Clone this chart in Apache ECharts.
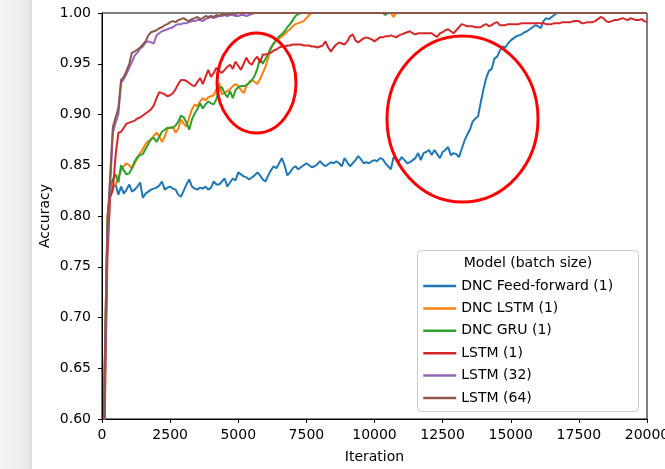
<!DOCTYPE html>
<html>
<head>
<meta charset="utf-8">
<script src="https://cdn.jsdelivr.net/npm/echarts@6/dist/echarts.min.js"></script>
<style>
html,body{margin:0;padding:0;background:#fff;}
#chart{width:665px;height:469px;}
</style>
</head>
<body>
<div id="chart"></div>
<script>
// Iteration grid (x values)
var iterations = [
0,100,200,300,400,500,600,700,800,900,
1000,1100,1200,1300,1400,1500,1600,1700,1800,1900,
2000,2100,2200,2300,2400,2500,2600,2700,2800,2900,
3000,3100,3200,3300,3400,3500,3600,3700,3800,3900,
4000,4100,4200,4300,4400,4500,4600,4700,4800,4900,
5000,5100,5200,5300,5400,5500,5600,5700,5800,5900,
6000,6100,6200,6300,6400,6500,6600,6700,6800,6900,
7000,7100,7200,7300,7400,7500,7600,7700,7800,7900,
8000,8100,8200,8300,8400,8500,8600,8700,8800,8900,
9000,9100,9200,9300,9400,9500,9600,9700,9800,9900,
10000,10100,10200,10300,10400,10500,10600,10700,10800,10900,
11000,11100,11200,11300,11400,11500,11600,11700,11800,11900,
12000,12100,12200,12300,12400,12500,12600,12700,12800,12900,
13000,13100,13200,13300,13400,13500,13600,13700,13800,13900,
14000,14100,14200,14300,14400,14500,14600,14700,14800,14900,
15000,15100,15200,15300,15400,15500,15600,15700,15800,15900,
16000,16100,16200,16300,16400,16500,16600,16700,16800,16900,
17000,17100,17200,17300,17400,17500,17600,17700,17800,17900,
18000,18100,18200,18300,18400,18500,18600,18700,18800,18900,
19000,19100,19200,19300,19400,19500,19600,19700,19800,19900,
20000];

var dncFeedForward = [
0.45,0.65,0.80,0.822,0.828,0.831,0.821,0.829,0.822,0.826,
0.831,0.824,0.826,0.829,0.833,0.818,0.822,0.824,0.826,0.827,
0.828,0.830,0.834,0.826,0.828,0.829,0.827,0.826,0.821,0.819,
0.825,0.831,0.836,0.829,0.827,0.826,0.828,0.827,0.829,0.826,
0.828,0.834,0.831,0.831,0.834,0.837,0.829,0.833,0.837,0.835,
0.843,0.841,0.839,0.838,0.836,0.838,0.840,0.843,0.840,0.836,
0.834,0.840,0.845,0.849,0.847,0.852,0.857,0.850,0.840,0.843,
0.847,0.849,0.846,0.848,0.850,0.852,0.850,0.848,0.849,0.851,
0.854,0.851,0.849,0.851,0.853,0.852,0.854,0.852,0.849,0.857,
0.853,0.849,0.852,0.855,0.859,0.856,0.852,0.853,0.852,0.854,
0.855,0.854,0.857,0.856,0.852,0.849,0.846,0.858,0.856,0.854,
0.858,0.855,0.852,0.853,0.855,0.857,0.862,0.855,0.862,0.863,
0.865,0.860,0.865,0.861,0.857,0.863,0.865,0.868,0.860,0.862,
0.861,0.858,0.866,0.874,0.880,0.885,0.893,0.896,0.898,0.912,
0.925,0.936,0.943,0.945,0.955,0.957,0.963,0.967,0.966,0.970,
0.973,0.975,0.977,0.978,0.979,0.981,0.982,0.984,0.986,0.988,
0.987,0.985,0.992,0.995,0.994,0.996,0.998,1,1,1,
1,1,1,1,1,1,1,1,1,1,
1,1,1,1,1,1,1,1,1,1,
1,1,1,1,1,1,1,1,1,1,
1];

var dncLstm = [
0.45,0.66,0.80,0.826,0.829,0.831,0.838,0.845,0.849,0.852,
0.850,0.847,0.852,0.857,0.862,0.866,0.871,0.874,0.875,0.879,
0.882,0.879,0.873,0.878,0.886,0.887,0.888,0.882,0.886,0.895,
0.891,0.888,0.897,0.905,0.910,0.908,0.913,0.916,0.914,0.917,
0.918,0.919,0.925,0.931,0.920,0.921,0.923,0.925,0.928,0.930,
0.928,0.924,0.921,0.928,0.932,0.934,0.932,0.930,0.935,0.941,
0.947,0.956,0.965,0.970,0.973,0.975,0.977,0.979,0.982,0.984,
0.987,0.989,0.990,0.991,0.992,0.995,0.998,1,1,1,
1,1,1,1,1,1,1,1,1,1,
1,1,1,1,1,1,1,1,1,1,
1,1,1,1,1,1,1,0.996,1,1,
1,1,1,1,1,1,1,1,1,1,
1,1,1,1,1,1,1,1,1,1,
1,1,1,1,1,1,1,1,1,1,
1,1,1,1,1,1,1,1,1,1,
1,1,1,1,1,1,1,1,1,1,
1,1,1,1,1,1,1,1,1,1,
1,1,1,1,1,1,1,1,1,1,
1,1,1,1,1,1,1,1,1,1,
1,1,1,1,1,1,1,1,1,1,
1];

var dncGru = [
0.45,0.64,0.79,0.828,0.836,0.841,0.833,0.850,0.845,0.841,
0.842,0.847,0.854,0.858,0.860,0.861,0.866,0.871,0.876,0.877,
0.873,0.878,0.883,0.885,0.887,0.887,0.887,0.889,0.893,0.899,
0.897,0.892,0.885,0.895,0.901,0.905,0.911,0.906,0.910,0.913,
0.911,0.910,0.915,0.926,0.927,0.921,0.917,0.923,0.916,0.924,
0.927,0.928,0.928,0.929,0.931,0.934,0.938,0.945,0.955,0.950,
0.955,0.960,0.966,0.970,0.974,0.977,0.979,0.982,0.986,0.989,
0.993,0.997,0.999,1,1,1,1,1,1,1,
1,1,1,1,1,1,1,1,1,1,
1,1,1,1,1,1,1,1,1,1,
1,1,1,1,0.998,1,1,1,1,1,
1,1,1,1,1,1,1,1,1,1,
1,1,1,1,1,1,1,1,1,1,
1,1,1,1,1,1,1,1,1,1,
1,1,1,1,1,1,1,1,1,1,
1,1,1,1,1,1,1,1,1,1,
1,1,1,1,1,1,1,1,1,1,
1,1,1,1,1,1,1,1,1,1,
1,1,1,1,1,1,1,1,1,1,
1,1,1,1,1,1,1,1,1,1,
1];

var lstm1 = [
0.45,0.60,0.76,0.818,0.826,0.860,0.882,0.883,0.887,0.891,
0.892,0.893,0.894,0.896,0.897,0.899,0.901,0.903,0.905,0.909,
0.916,0.922,0.921,0.920,0.918,0.919,0.921,0.925,0.930,0.934,
0.934,0.933,0.931,0.929,0.928,0.932,0.936,0.930,0.937,0.944,
0.937,0.941,0.946,0.943,0.941,0.944,0.947,0.949,0.945,0.952,
0.948,0.944,0.950,0.956,0.951,0.949,0.954,0.957,0.951,0.959,
0.959,0.960,0.961,0.963,0.964,0.966,0.967,0.967,0.968,0.968,
0.969,0.969,0.969,0.969,0.968,0.968,0.968,0.967,0.967,0.966,
0.967,0.968,0.972,0.966,0.962,0.966,0.969,0.971,0.970,0.969,
0.972,0.977,0.979,0.973,0.971,0.973,0.975,0.976,0.975,0.974,
0.972,0.974,0.976,0.976,0.977,0.977,0.978,0.977,0.976,0.978,
0.979,0.980,0.981,0.982,0.980,0.979,0.980,0.980,0.980,0.980,
0.980,0.980,0.978,0.9765,0.980,0.981,0.983,0.984,0.982,0.980,
0.983,0.986,0.989,0.988,0.987,0.987,0.987,0.986,0.986,0.986,
0.988,0.989,0.987,0.988,0.990,0.991,0.988,0.988,0.988,0.989,
0.989,0.989,0.989,0.989,0.990,0.990,0.990,0.990,0.990,0.990,
0.990,0.990,0.990,0.989,0.989,0.989,0.990,0.990,0.990,0.991,
0.991,0.991,0.991,0.992,0.992,0.992,0.990,0.990,0.991,0.991,
0.991,0.992,0.994,0.996,0.995,0.992,0.991,0.992,0.993,0.993,
0.994,0.995,0.994,0.993,0.995,0.994,0.993,0.993,0.994,0.992,
0.991];

var lstm32 = [
0.45,0.63,0.78,0.83,0.882,0.892,0.900,0.931,0.935,0.940,
0.946,0.952,0.958,0.961,0.965,0.967,0.971,0.972,0.971,0.970,
0.978,0.980,0.982,0.983,0.984,0.985,0.986,0.988,0.989,0.989,
0.990,0.990,0.991,0.992,0.992,0.993,0.993,0.992,0.994,0.995,
0.996,0.995,0.996,0.997,0.997,0.998,0.997,0.998,0.998,0.997,
0.997,0.998,0.998,0.997,0.998,0.999,1,1,1,1,
1,1,1,1,1,1,1,1,1,1,
1,1,1,1,1,1,1,1,1,1,
1,1,1,1,1,1,1,1,1,1,
1,1,1,1,1,1,1,1,1,1,
1,1,1,1,1,1,1,1,1,1,
1,1,1,1,1,1,1,1,1,1,
1,1,1,1,1,1,1,1,1,1,
1,1,1,1,1,1,1,1,1,1,
1,1,1,1,1,1,1,1,1,1,
1,1,1,1,1,1,1,1,1,1,
1,1,1,1,1,1,1,1,1,1,
1,1,1,1,1,1,1,1,1,1,
1,1,1,1,1,1,1,1,1,1,
1,1,1,1,1,1,1,1,1,1,
1];

var lstm64 = [
0.45,0.65,0.79,0.84,0.888,0.897,0.906,0.934,0.937,0.943,
0.950,0.961,0.962,0.964,0.966,0.969,0.972,0.978,0.981,0.982,
0.983,0.985,0.986,0.988,0.989,0.991,0.992,0.991,0.993,0.994,
0.995,0.993,0.992,0.994,0.995,0.996,0.994,0.995,0.997,0.996,
0.997,0.996,0.998,0.997,0.999,0.998,0.999,0.999,1,0.999,
1,1,1,1,1,1,1,1,1,1,
1,1,1,1,1,1,1,1,1,1,
1,1,1,1,1,1,1,1,1,1,
1,1,1,1,1,1,1,1,1,1,
1,1,1,1,1,1,1,1,1,1,
1,1,1,1,1,1,1,1,1,1,
1,1,1,1,1,1,1,1,1,1,
1,1,1,1,1,1,1,1,1,1,
1,1,1,1,1,1,1,1,1,1,
1,1,1,1,1,1,1,1,1,1,
1,1,1,1,1,1,1,1,1,1,
1,1,1,1,1,1,1,1,1,1,
1,1,1,1,1,1,1,1,1,1,
1,1,1,1,1,1,1,1,1,1,
1,1,1,1,1,1,1,1,1,1,
1];

var seriesNames = ['DNC Feed-forward (1)', 'DNC LSTM (1)', 'DNC GRU (1)', 'LSTM (1)', 'LSTM (32)', 'LSTM (64)'];
var seriesValues = [dncFeedForward, dncLstm, dncGru, lstm1, lstm32, lstm64];
var seriesColors = ['#1f77b4', '#ff7f0e', '#2ca02c', '#d62728', '#9467bd', '#8c564b'];
var legendTitle = 'Model (batch size)';
var xAxisName = 'Iteration';
var yAxisName = 'Accuracy';

var FONT = 'DejaVu Sans';

function pairs(vals) {
  var out = [];
  for (var k = 0; k < iterations.length; k++) out.push([iterations[k], vals[k]]);
  return out;
}

var series = seriesNames.map(function (name, idx) {
  return {
    name: name,
    type: 'line',
    data: pairs(seriesValues[idx]),
    symbol: 'none',
    showSymbol: false,
    clip: true,
    lineStyle: { width: 2, color: seriesColors[idx] },
    itemStyle: { color: seriesColors[idx] },
    z: 2 + idx * 0.01,
    animation: false
  };
});

var chart = echarts.init(document.getElementById('chart'), null, { renderer: 'canvas' });
chart.setOption({
  animation: false,
  backgroundColor: '#ffffff',
  grid: {
    left: 102, right: 18, top: 13, bottom: 50,
    outerBoundsMode: 'none', containLabel: false,
    show: true, borderColor: '#000', borderWidth: 1, backgroundColor: 'transparent'
  },
  xAxis: {
    type: 'value', min: 0, max: 20000, interval: 2500,
    name: xAxisName, nameLocation: 'middle', nameGap: 31, nameMoveOverlap: false,
    nameTextStyle: { fontFamily: FONT, fontSize: 14, color: '#000' },
    axisLine: { show: true, lineStyle: { color: '#000', width: 1 } },
    axisTick: { show: true, inside: false, length: 4, lineStyle: { color: '#000' } },
    axisLabel: { fontFamily: FONT, fontSize: 14, color: '#000', margin: 9,
      hideOverlap: false, showMaxLabel: true,
      formatter: function (v) { return String(v); } },
    splitLine: { show: false }
  },
  yAxis: {
    type: 'value', min: 0.6, max: 1.0, interval: 0.05,
    name: yAxisName, nameLocation: 'middle', nameGap: 50, nameMoveOverlap: false,
    nameTextStyle: { fontFamily: FONT, fontSize: 14, color: '#000' },
    axisLine: { show: true, lineStyle: { color: '#000', width: 1 } },
    axisTick: { show: true, inside: false, length: 4, lineStyle: { color: '#000' } },
    axisLabel: { fontFamily: FONT, fontSize: 14, color: '#000', margin: 11,
      formatter: function (v) { return v.toFixed(2); } },
    splitLine: { show: false }
  },
  legend: {
    orient: 'vertical',
    left: 422, top: 279,
    padding: 0,
    itemWidth: 33, itemHeight: 14, itemGap: 8.4, itemTextGap: 11,
    itemStyle: { opacity: 0 },
    lineStyle: { width: 2.5 },
    textStyle: { fontFamily: FONT, fontSize: 14, color: '#000', lineHeight: 14 },
    data: seriesNames,
    z: 6
  },
  graphic: [
    {
      type: 'rect', left: 0, top: 0, z: -10,
      shape: { x: 0, y: 0, width: 32, height: 469 },
      style: {
        fill: new echarts.graphic.LinearGradient(0, 0, 1, 0, [
          { offset: 0, color: '#f3f3f3' },
          { offset: 0.8, color: '#ededed' },
          { offset: 1, color: '#dedede' }
        ])
      }
    },
    {
      type: 'rect', z: 5,
      shape: { x: 417.5, y: 250.5, width: 221, height: 161, r: 4 },
      style: { fill: 'rgba(255,255,255,0.85)', stroke: '#cccccc', lineWidth: 1 }
    },
    {
      type: 'text', z: 6,
      x: 528, y: 263,
      style: { text: legendTitle, fontFamily: FONT, fontSize: 14, fill: '#000',
        textAlign: 'center', textVerticalAlign: 'middle' }
    },
    {
      type: 'ellipse', z: 10,
      shape: { cx: 256.5, cy: 83, rx: 39.5, ry: 50 },
      style: { fill: 'none', stroke: '#ff0000', lineWidth: 3 }
    },
    {
      type: 'ellipse', z: 10,
      shape: { cx: 462.5, cy: 119, rx: 75.5, ry: 83 },
      style: { fill: 'none', stroke: '#ff0000', lineWidth: 3 }
    }
  ],
  series: series
});
</script>
</body>
</html>
